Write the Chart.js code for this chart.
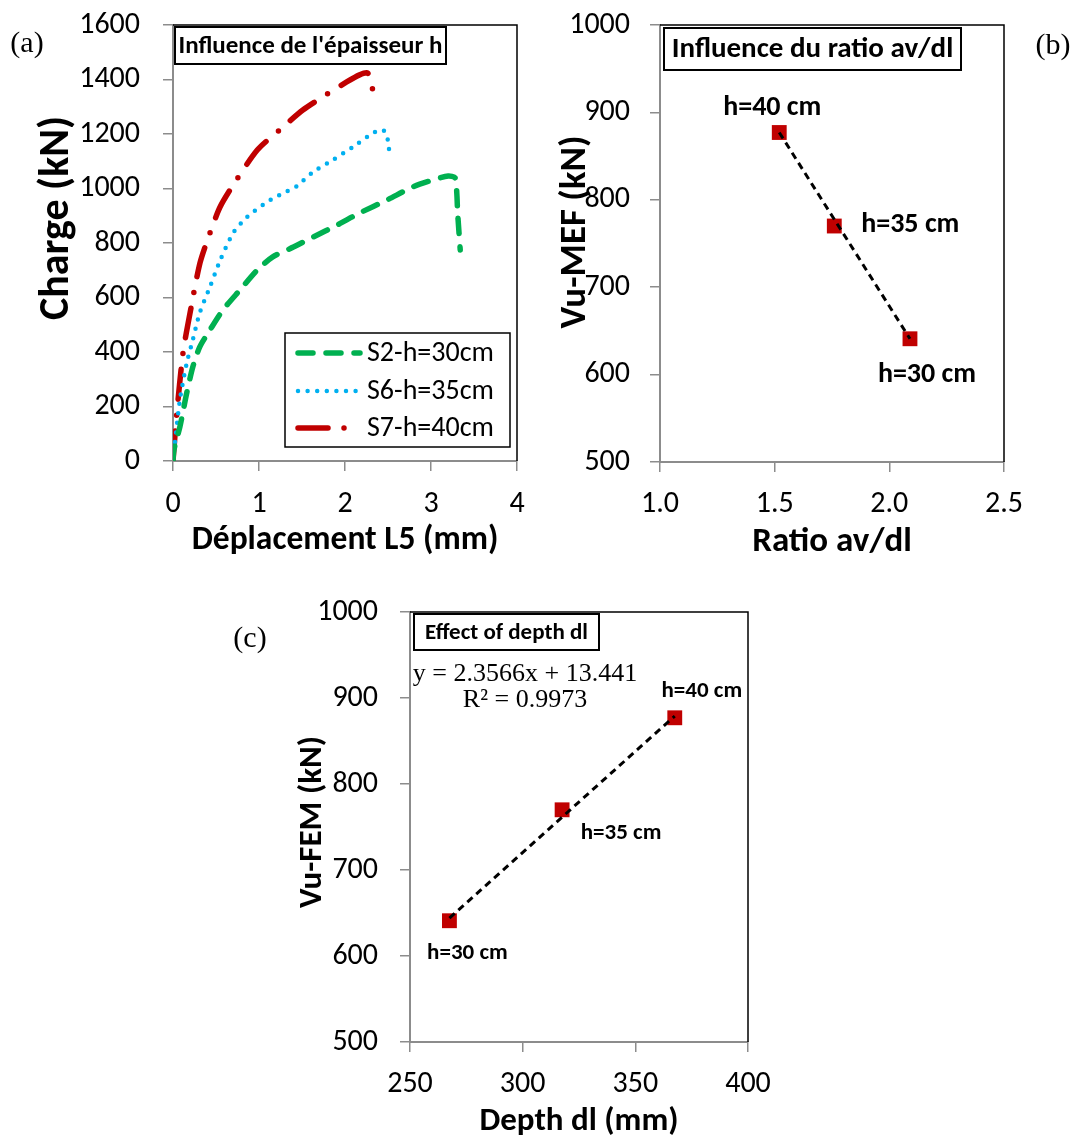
<!DOCTYPE html>
<html>
<head>
<meta charset="utf-8">
<script src="https://cdn.jsdelivr.net/npm/chart.js@4/dist/chart.umd.min.js"></script>
<style>
  html, body { margin: 0; padding: 0; background: #fff; }
  body { width: 1079px; height: 1138px; position: relative; overflow: hidden; }
  canvas { position: absolute; }
  .tag { position: absolute; font-family: 'Liberation Serif', serif; font-size: 30px; color: #000;
         line-height: 1; transform: translate(-50%, -50%); }
</style>
</head>
<body>
<canvas id="chart-a" width="540" height="565" style="left:0;top:0"></canvas>
<canvas id="chart-b" width="539" height="565" style="left:540px;top:0"></canvas>
<canvas id="chart-c" width="550" height="560" style="left:250px;top:578px"></canvas>
<div class="tag" style="left:27px;top:42px">(a)</div>
<div class="tag" style="left:1053px;top:44px">(b)</div>
<div class="tag" style="left:250px;top:637px">(c)</div>

<script>
// ── Panel (a): load vs displacement ──
const S2_DISP = [0, 0.01, 0.08, 0.16, 0.23, 0.31, 0.43, 0.58, 0.78, 0.98, 1.16, 1.40, 1.63, 1.91, 2.17, 2.49, 2.79, 3.02, 3.20, 3.28, 3.30, 3.31, 3.34];
const S2_LOAD = [0, 40, 125, 250, 345, 418, 481, 554, 628, 701, 749, 785, 822, 866, 910, 958, 1006, 1031, 1046, 1039, 983, 910, 774];
const S6_DISP = [0, 0.02, 0.08, 0.16, 0.23, 0.31, 0.43, 0.55, 0.70, 0.86, 1.09, 1.28, 1.44, 1.63, 1.86, 2.09, 2.33, 2.44, 2.49, 2.52, 2.55];
const S6_LOAD = [0, 59, 224, 360, 444, 543, 639, 738, 837, 895, 950, 983, 1009, 1061, 1105, 1152, 1204, 1215, 1189, 1130, 1116];
const S7_DISP = [0, 0.01, 0.04, 0.116, 0.198, 0.314, 0.43, 0.547, 0.70, 0.98, 1.24, 1.51, 1.74, 2.02, 2.17, 2.26, 2.29, 2.33];
const S7_LOAD = [0, 40, 161, 396, 543, 727, 837, 932, 1013, 1141, 1215, 1288, 1336, 1391, 1417, 1424, 1406, 1350];
const A_SERIES = ['S2-h=30cm', 'S6-h=35cm', 'S7-h=40cm'];
const A_X_TICKS = [0, 1, 2, 3, 4];
const A_Y_TICKS = [0, 200, 400, 600, 800, 1000, 1200, 1400, 1600];

// ── Panels (b) and (c): ultimate shear per beam ───────
const H_LABELS = ['h=40 cm', 'h=35 cm', 'h=30 cm'];
const RATIO = [1.52, 1.76, 2.09];
const DEPTH = [367.5, 317.5, 267.5];
const VU = [877, 770, 641];
const B_TREND_X = [1.52, 2.09];
const B_TREND_Y = [877, 641];
const C_TREND_X = [267.5, 367.5];
const C_TREND_Y = [644, 879];
const B_X_TICKS = [1.0, 1.5, 2.0, 2.5];
const B_X_LABELS = ['1.0', '1.5', '2.0', '2.5'];
const C_X_TICKS = [250, 300, 350, 400];
const VU_TICKS = [500, 600, 700, 800, 900, 1000];
const C_EQUATION = ['y = 2.3566x + 13.441', 'R² = 0.9973'];

const FONT = "Carlito, Calibri, Lato, 'Open Sans', sans-serif";
const SERIF = "'Liberation Serif', 'Times New Roman', serif";
const GRAY = '#8c8c8c';
const RED = '#C00000';
const GREEN = '#00B050';
const BLUE = '#00B0F0';
const TICK_SIZE = 30;

const pts = (xs, ys) => xs.map((x, i) => ({ x, y: ys[i] }));

// ── Annotation plugin: frame, y title, boxed title, legend, labels ──
const notes = {
  id: 'notes',
  afterDatasetsDraw(chart, args, o) {
    const { ctx, chartArea: a } = chart;
    ctx.save();
    ctx.strokeStyle = '#000';
    ctx.lineWidth = 1.5;
    ctx.beginPath();
    ctx.moveTo(a.left, a.top); ctx.lineTo(a.right, a.top); ctx.lineTo(a.right, a.bottom);
    ctx.stroke();

    // vertical axis title (Excel places it a bit above the plot centre)
    if (o.yTitle) {
      ctx.save();
      ctx.translate(o.yTitle.x, o.yTitle.y);
      ctx.rotate(-Math.PI / 2);
      ctx.fillStyle = '#000';
      ctx.font = `bold ${o.yTitle.size}px ${FONT}`;
      ctx.textAlign = 'center';
      ctx.textBaseline = 'middle';
      ctx.fillText(o.yTitle.text, 0, 0);
      ctx.restore();
    }

    if (o.box) {
      const b = o.box;
      ctx.fillStyle = '#fff';
      ctx.fillRect(b.x, b.y, b.w, b.h);
      ctx.lineWidth = 2;
      ctx.strokeRect(b.x, b.y, b.w, b.h);
      ctx.fillStyle = '#000';
      ctx.font = `bold ${b.size}px ${FONT}`;
      ctx.textAlign = 'center';
      ctx.textBaseline = 'middle';
      ctx.fillText(b.text, b.x + b.w / 2, b.y + b.h / 2 + 1);
    }

    if (o.legend) {
      const L = o.legend;
      ctx.fillStyle = '#fff';
      ctx.fillRect(L.x, L.y, L.w, L.h);
      ctx.lineWidth = 1.5;
      ctx.strokeStyle = '#000';
      ctx.strokeRect(L.x, L.y, L.w, L.h);
      chart.data.datasets.forEach((ds, i) => {
        const y = L.rows[i];
        ctx.save();
        ctx.strokeStyle = ds.borderColor;
        ctx.lineWidth = ds.borderWidth;
        ctx.lineCap = ds.borderCapStyle;
        ctx.setLineDash(ds.borderDash);
        ctx.beginPath();
        ctx.moveTo(L.x0, y); ctx.lineTo(L.x1, y);
        ctx.stroke();
        ctx.restore();
        ctx.fillStyle = '#000';
        ctx.font = `${L.size}px ${FONT}`;
        ctx.textAlign = 'left';
        ctx.textBaseline = 'middle';
        ctx.fillText(ds.label, L.textX, y + 1);
      });
    }

    if (o.labels) {
      const meta = chart.getDatasetMeta(o.labels.dataset);
      ctx.fillStyle = '#000';
      ctx.font = `bold ${o.labels.size}px ${FONT}`;
      ctx.textAlign = 'center';
      ctx.textBaseline = 'middle';
      meta.data.forEach((p, i) => {
        const [dx, dy] = o.labels.offsets[i];
        ctx.fillText(o.labels.text[i], p.x + dx, p.y + dy);
      });
    }

    (o.lines || []).forEach(l => {
      ctx.fillStyle = '#000';
      ctx.font = `${l.size}px ${SERIF}`;
      ctx.textAlign = 'center';
      ctx.textBaseline = 'middle';
      ctx.fillText(l.text, l.x, l.y);
    });
    ctx.restore();
  }
};

// ── Scale / dataset helpers ───────────────────────────
function scale({ min, max, ticks, labels, title, titleSize, titlePad, size, vertical, tickPad }) {
  return {
    type: 'linear', min, max,
    afterBuildTicks: s => { s.ticks = ticks.map(v => ({ value: v })); },
    afterFit: s => {
      if (vertical) s.width = size; else s.height = size;
      // keep the plot area exactly where layout.padding puts it
      s.paddingTop = s.paddingBottom = s.paddingLeft = s.paddingRight = 0;
    },
    ticks: {
      color: '#000',
      font: { family: FONT, size: TICK_SIZE, lineHeight: 1 },
      padding: tickPad,
      autoSkip: false,
      maxRotation: 0,
      callback: (v, i) => (labels ? labels[i] : String(v)),
    },
    grid: { display: true, drawOnChartArea: false, drawTicks: true, tickLength: 10, color: GRAY, lineWidth: 1.5 },
    border: { display: true, color: GRAY, width: 2 },
    title: {
      display: !vertical, text: title, color: '#000',
      font: { family: FONT, size: titleSize || 33, weight: 'bold', lineHeight: 1 },
      padding: { top: 0, bottom: titlePad || 0 },
    },
  };
}

function curve(label, xs, ys, color, dash, width) {
  return {
    label, data: pts(xs, ys), showLine: true, pointRadius: 0,
    borderColor: color, borderWidth: width, borderDash: dash,
    borderCapStyle: 'round', borderJoinStyle: 'round', tension: 0.25,
  };
}

function markers(xs, ys) {
  return { data: pts(xs, ys), pointStyle: 'rect', pointRadius: 10.5, pointHoverRadius: 10.5,
           backgroundColor: RED, borderColor: RED, borderWidth: 0 };
}

function trend(xs, ys) {
  return { data: pts(xs, ys), showLine: true, pointRadius: 0, borderColor: '#000',
           borderWidth: 3, borderDash: [7, 5], tension: 0 };
}

function options(padding, x, y, notesOpts) {
  return {
    responsive: false, animation: false, devicePixelRatio: 1,
    layout: { padding },
    scales: { x, y },
    plugins: { legend: { display: false }, tooltip: { enabled: false }, notes: notesOpts },
  };
}

// ── (a) Influence de l'épaisseur h ────────────────────
new Chart(document.getElementById('chart-a'), {
  type: 'scatter',
  data: { datasets: [
    curve(A_SERIES[0], S2_DISP, S2_LOAD, GREEN, [15, 13], 5.5),
    curve(A_SERIES[1], S6_DISP, S6_LOAD, BLUE, [0, 9.6], 4.5),
    curve(A_SERIES[2], S7_DISP, S7_LOAD, RED, [30, 16, 0, 16], 5.5),
  ]},
  options: options(
    { left: 0, top: 25, right: 23, bottom: 0 },
    scale({ min: 0, max: 4, ticks: A_X_TICKS, title: 'Déplacement L5 (mm)', titleSize: 33.5, titlePad: 7.5, size: 104, tickPad: 18 }),
    scale({ min: 0, max: 1600, ticks: A_Y_TICKS, size: 173, vertical: true, tickPad: 23 }),
    {
      yTitle: { text: 'Charge (kN)', x: 57, y: 218, size: 42 },
      box: { text: "Influence de l'épaisseur h", x: 175, y: 27, w: 271, h: 37, size: 25 },
      legend: { x: 285, y: 333, w: 225, h: 114, rows: [353, 391, 428], x0: 298, x1: 360, textX: 367, size: 28 },
    }
  ),
  plugins: [notes],
});

// ── (b) Influence du ratio av/dl ──────────────────────
new Chart(document.getElementById('chart-b'), {
  type: 'scatter',
  data: { datasets: [trend(B_TREND_X, B_TREND_Y), markers(RATIO, VU)] },
  options: options(
    { left: 0, top: 25, right: 75, bottom: 0 },
    scale({ min: 1.0, max: 2.5, ticks: B_X_TICKS, labels: B_X_LABELS, title: 'Ratio av/dl', titleSize: 35, titlePad: 5.5, size: 103, tickPad: 17 }),
    scale({ min: 500, max: 1000, ticks: VU_TICKS, size: 120, vertical: true, tickPad: 20 }),
    {
      yTitle: { text: 'Vu-MEF (kN)', x: 36, y: 232, size: 37 },
      box: { text: 'Influence du ratio av/dl', x: 124, y: 28, w: 297, h: 42, size: 29 },
      labels: { dataset: 1, text: H_LABELS, size: 28, offsets: [[-7, -25], [76, -1], [17, 36]] },
    }
  ),
  plugins: [notes],
});

// ── (c) Effect of depth dl ────────────────────────────
new Chart(document.getElementById('chart-c'), {
  type: 'scatter',
  data: { datasets: [trend(C_TREND_X, C_TREND_Y), markers(DEPTH, VU)] },
  options: options(
    { left: 0, top: 34, right: 52, bottom: 0 },
    scale({ min: 250, max: 400, ticks: C_X_TICKS, title: 'Depth dl (mm)', titleSize: 33, titlePad: 0, size: 96, tickPad: 17 }),
    scale({ min: 500, max: 1000, ticks: VU_TICKS, size: 160, vertical: true, tickPad: 22 }),
    {
      yTitle: { text: 'Vu-FEM (kN)', x: 63, y: 244, size: 33 },
      box: { text: 'Effect of depth dl', x: 164, y: 36, w: 185, h: 36, size: 23 },
      labels: { dataset: 1, text: H_LABELS, size: 23, offsets: [[27, -27], [59, 23], [18, 33]] },
      lines: [
        { text: C_EQUATION[0], x: 275, y: 96, size: 26 },
        { text: C_EQUATION[1], x: 275, y: 122, size: 26 },
      ],
    }
  ),
  plugins: [notes],
});
</script>
</body>
</html>
